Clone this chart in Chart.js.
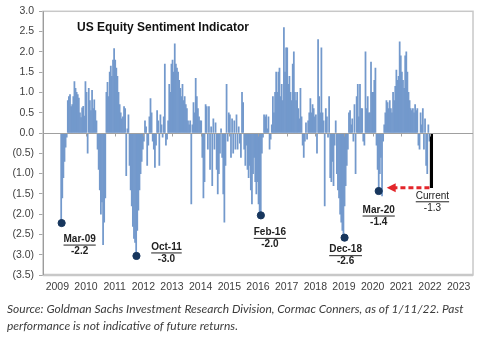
<!DOCTYPE html>
<html>
<head>
<meta charset="utf-8">
<script src="https://cdn.jsdelivr.net/npm/chart.js@4.4.0/dist/chart.umd.min.js"></script>
<style>
  html, body { margin: 0; padding: 0; background: #fff; }
  #wrap { width: 500px; height: 337px; }
</style>
</head>
<body>
<div id="wrap"><canvas id="sentimentChart"></canvas></div>
<script>
// bi-weekly readings, 26 per year (null = no reading)
const y2009 = [null, null, null, -2.2, -1.6, -1.1, -0.7, -0.35, -0.1, 0.8, 0.9, 0.95, 0.65, 0.7, 0.9, 1.27, 1.1, 1.0, 0.95, 0.86, 0.5, 0.38, 0.62, 0.66, 0.42, 1.27];
const y2010 = [1.0, -0.5, 1.1, 0.8, 0.55, 1.05, 0.6, 0.82, 0.55, 0.3, -0.4, -0.9, -1.4, -2.0, -1.7, -2.75, -2.2, -1.6, 1.0, 1.25, 0.9, 1.5, 1.65, 1.4, 1.8, 2.08];
const y2011 = [1.8, 1.6, 1.4, 1.0, 0.7, 0.5, 0.35, 0.4, 0.65, 0.6, -1.05, 0.1, 0.45, -0.8, -1.4, -1.8, -2.3, -2.6, -2.7, -3.0, -2.4, -1.9, -1.4, -1.0, -0.7, -0.4];
const y2012 = [-0.2, 0.3, 0.15, -0.8, -0.3, 0.4, 0.85, 0.5, -0.2, -0.4, -0.85, -0.3, 0.55, 0.3, -0.8, 0.45, 0.2, -0.1, 0.4, 1.7, -0.3, -0.15, 0.3, 1.2, 1.0, 1.7];
const y2013 = [1.8, 1.5, 2.2, 1.7, 1.6, 1.5, 1.3, 1.1, 0.9, 1.2, 0.8, 0.9, 0.7, 0.6, 0.3, 0.2, 0.3, -1.75, 0.2, 0.75, 0.5, 1.35, 0.9, 0.6, 0.4, 0.3];
const y2014 = [0.3, -0.6, -1.6, -1.2, 0.7, 0.65, -0.4, 0.65, -0.9, 0.15, -1.3, 0.35, -0.4, 0.25, -0.9, -1.5, -1.0, -0.5, 0.1, -0.6, -1.5, -2.2, -0.8, 1.2, -0.2, 0.5];
const y2015 = [0.45, -0.6, 0.35, -0.5, 0.3, -0.4, 0.45, -0.4, 0.15, -0.25, -0.6, 1.0, 0.75, -0.4, -0.8, -0.3, -0.9, -1.1, -0.8, -1.4, -1.75, -1.0, -0.6, -1.2, -1.5, -1.2];
const y2016 = [-1.75, -2.0, -2.0, -0.5, -0.1, 0.45, 0.4, 0.45, 0.1, 0.4, -0.4, -0.15, 0.2, 0.9, 0.5, 1.0, 1.5, 1.0, 1.5, 1.6, 0.9, 1.2, 0.8, 2.6, 1.5, 2.1];
const y2017 = [2.1, 1.2, 1.4, 1.0, 0.8, 1.7, 2.0, 1.0, 0.8, 1.0, 0.6, 0.35, 1.1, 0.4, -0.3, -0.6, -0.2, 0.25, -0.15, 0.3, 0.5, 0.85, 0.5, 0.7, 0.6, 0.4];
const y2018 = [0.45, -0.5, 2.3, 0.9, 0.5, 2.1, 0.5, 0.3, -1.8, 0.6, 0.4, -0.1, 0.9, -1.1, -1.2, -0.7, -1.3, -0.3, 0.3, -1.0, -1.4, -1.6, -2.0, -2.2, -2.4, -2.6];
const y2019 = [-1.8, -1.3, -0.8, -0.4, 0.5, 0.55, 0.2, 0.35, -0.2, 0.7, -1.0, 0.9, 1.2, 0.4, 1.2, 0.6, 0.6, -0.2, -0.3, 2.0, 0.6, 0.9, 0.5, 0.5, 1.75, 1.0];
const y2020 = [1.0, 1.3, 1.6, -0.3, -0.9, -1.4, -1.0, -0.6, -1.55, -0.2, 0.2, 0.5, 0.8, 0.75, 0.6, 0.8, 0.6, 0.5, 1.0, 0.8, 1.15, 1.55, 1.3, 1.4, 2.25, 1.9];
const y2021 = [1.5, 1.3, 1.1, 1.9, 2.0, 1.5, 1.0, 0.8, 0.6, 0.55, 0.6, 0.5, 0.7, 0.55, 0.6, -0.3, -0.4, 0.5, 0.2, 0.6, -0.4, 0.35, -0.8, -1.0, 0.2, -0.2];

const years = [2009, 2010, 2011, 2012, 2013, 2014, 2015, 2016, 2017, 2018, 2019, 2020, 2021];
const readingsByYear = [y2009, y2010, y2011, y2012, y2013, y2014, y2015, y2016, y2017, y2018, y2019, y2020, y2021];

const currentDate = 2022.05;
const currentValue = -1.35;
const currentText = "-1.3";

// marked lows
const lowLabels = ["Mar-09", "Oct-11", "Feb-16", "Dec-18", "Mar-20"];
const lowDates = [2009.15, 2011.76, 2016.10, 2019.02, 2020.21];
const lowValues = [-2.22, -3.03, -2.03, -2.58, -1.43];
const lowTexts = ["-2.2", "-3.0", "-2.0", "-2.6", "-1.4"];
// label offset from the dot (px)
const lowOffsets = [[18, 16], [30, -9], [9, 17], [1, 12], [0, 19]];

const barPoints = [];
readingsByYear.forEach((vals, k) => {
  vals.forEach((v, i) => {
    if (v !== null) barPoints.push({ x: years[k] + (i + 0.5) / vals.length, y: v });
  });
});
const lowPoints = lowDates.map((d, i) => ({ x: d, y: lowValues[i] }));

const FONT = "'Liberation Sans', Arial, sans-serif";

function underlined(ctx, text, x, y) {
  ctx.fillText(text, x, y);
  const w = ctx.measureText(text).width;
  ctx.fillRect(x - w / 2, y + 5.5, w, 1);
}

const decor = {
  id: "decor",
  beforeDatasetsDraw(chart) {
    const { ctx, chartArea: a } = chart;
    ctx.save();
    ctx.strokeStyle = "#c8c8c8";
    ctx.lineWidth = 1.5;
    ctx.strokeRect(a.left, a.top, a.right - a.left, a.bottom - a.top);
    ctx.lineWidth = 2.5;
    ctx.beginPath();
    ctx.moveTo(a.left, a.bottom);
    ctx.lineTo(a.right, a.bottom);
    ctx.stroke();
    ctx.strokeStyle = "#9c9c9c";
    ctx.lineWidth = 1;
    ctx.beginPath();
    ctx.moveTo(a.left + 0.5, a.top);
    ctx.lineTo(a.left + 0.5, a.bottom);
    ctx.stroke();
    ctx.restore();
  },
  afterDatasetsDraw(chart) {
    const { ctx, chartArea: a, scales } = chart;
    const x = scales.x, y = scales.y;
    const y0 = Math.round(y.getPixelForValue(0)) + 0.5;
    ctx.save();
    // zero line with year ticks
    ctx.strokeStyle = "#a0a0a0";
    ctx.lineWidth = 1;
    ctx.beginPath();
    ctx.moveTo(a.left, y0);
    ctx.lineTo(a.right, y0);
    for (let yr = 2010; yr < 2023; yr++) {
      const px = Math.round(x.getPixelForValue(yr)) + 0.5;
      ctx.moveTo(px, y0);
      ctx.lineTo(px, y0 + 3);
    }
    ctx.stroke();

    // red dashed arrow from current reading back to Mar-20
    const cx = x.getPixelForValue(currentDate);
    const cy = y.getPixelForValue(currentValue);
    const tip = x.getPixelForValue(lowDates[4]) + 8;
    ctx.strokeStyle = "#e3262b";
    ctx.fillStyle = "#e3262b";
    ctx.lineWidth = 3;
    ctx.setLineDash([5, 3]);
    ctx.beginPath();
    ctx.moveTo(cx - 2, cy);
    ctx.lineTo(tip + 8, cy);
    ctx.stroke();
    ctx.setLineDash([]);
    ctx.beginPath();
    ctx.moveTo(tip, cy);
    ctx.lineTo(tip + 9, cy - 4.5);
    ctx.lineTo(tip + 9, cy + 4.5);
    ctx.closePath();
    ctx.fill();

    // title
    ctx.fillStyle = "#111";
    ctx.font = "bold 12px " + FONT;
    ctx.textAlign = "left";
    ctx.textBaseline = "middle";
    ctx.fillText("US Equity Sentiment Indicator", 77, 28);

    // callouts
    ctx.font = "bold 10px " + FONT;
    ctx.textAlign = "center";
    ctx.fillStyle = "#222";
    lowLabels.forEach((lab, i) => {
      const px = x.getPixelForValue(lowDates[i]) + lowOffsets[i][0];
      const py = y.getPixelForValue(lowValues[i]) + lowOffsets[i][1];
      underlined(ctx, lab, px, py);
      ctx.fillText(lowTexts[i], px, py + 12);
    });
    const lx = cx + 1, ly = cy + 8;
    ctx.font = "10px " + FONT;
    ctx.fillStyle = "#222";
    underlined(ctx, "Current", lx, ly);
    ctx.fillText(currentText, lx, ly + 12);

    // source note
    ctx.fillStyle = "#3c3c3c";
    ctx.textAlign = "left";
    const line1 = "Source: Goldman Sachs Investment Research Division, Cormac Conners, as of 1/11/22. Past";
    let size = 12;
    ctx.font = "italic " + size + "px Lato";
    while (ctx.measureText(line1).width > 480 && size > 8) {
      size -= 0.25;
      ctx.font = "italic " + size + "px Lato";
    }
    ctx.fillText(line1, 7, 309);
    ctx.fillText("performance is not indicative of future returns.", 7, 326);
    ctx.restore();
  }
};

const chart = new Chart(document.getElementById("sentimentChart"), {
  type: "bar",
  data: {
    datasets: [
      {
        type: "line",
        data: lowPoints,
        showLine: false,
        pointRadius: 3.6,
        pointBackgroundColor: "#17365d",
        pointBorderColor: "#17365d",
        order: 0
      },
      {
        data: [{ x: currentDate, y: currentValue }],
        backgroundColor: "#000",
        barThickness: 2.5,
        grouped: false,
        order: 1
      },
      {
        data: barPoints,
        backgroundColor: "#7399cc",
        barPercentage: 1,
        categoryPercentage: 1,
        grouped: false,
        order: 2
      }
    ]
  },
  options: {
    responsive: true,
    maintainAspectRatio: false,
    animation: false,
    events: [],
    layout: { padding: { top: 10, right: 27, bottom: 0, left: 0 } },
    plugins: {
      legend: { display: false },
      tooltip: { enabled: false }
    },
    scales: {
      x: {
        type: "linear",
        min: 2009,
        max: 2023,
        ticks: {
          stepSize: 1,
          autoSkip: false,
          maxRotation: 0,
          padding: 6,
          color: "#404040",
          font: { family: FONT, size: 10.5 },
          callback: (v) => String(v)
        },
        grid: { display: false, drawTicks: false },
        border: { display: false },
        afterFit: (s) => { s.height = 62; }
      },
      y: {
        min: -3.5,
        max: 3,
        ticks: {
          stepSize: 0.5,
          padding: 5,
          color: "#404040",
          font: { family: FONT, size: 10.5 },
          callback: (v) => (v < 0 ? "(" + Math.abs(v).toFixed(1) + ")" : v.toFixed(1))
        },
        grid: { drawOnChartArea: false, tickLength: 4, color: "#a6a6a6" },
        border: { display: false },
        afterFit: (s) => { s.width = 43; }
      }
    }
  },
  plugins: [decor]
});
</script>
</body>
</html>
